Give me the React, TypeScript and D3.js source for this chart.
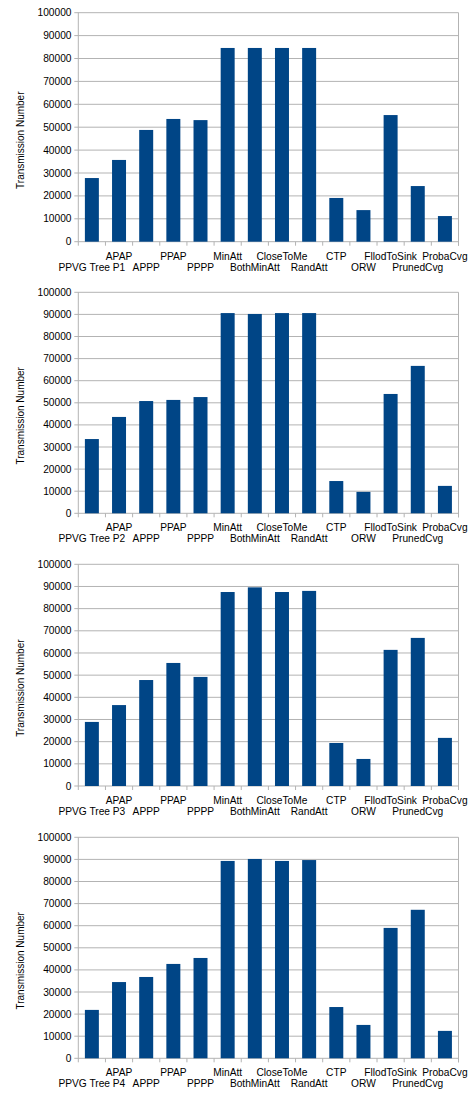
import React from "react";
import * as d3 from "d3";

const categories = [
  "PPVG Tree P1", "APAP", "APPP", "PPAP", "PPPP", "MinAtt", "BothMinAtt",
  "CloseToMe", "RandAtt", "CTP", "ORW", "FllodToSink", "PrunedCvg", "ProbaCvg",
];
const firstCategoryPerPanel = ["PPVG Tree P1", "PPVG Tree P2", "PPVG Tree P3", "PPVG Tree P4"];

const seriesP1 = [27800, 35700, 48800, 53600, 53100, 84600, 84600, 84600, 84600, 19100, 13800, 55300, 24300, 11200];
const seriesP2 = [33600, 43600, 50800, 51300, 52600, 90600, 90200, 90600, 90600, 14600, 9700, 54000, 66700, 12400];
const seriesP3 = [28900, 36500, 47800, 55500, 49200, 87500, 89600, 87500, 88000, 19400, 12200, 61400, 66800, 21700];
const seriesP4 = [21900, 34500, 36800, 42700, 45400, 89300, 90200, 89300, 89700, 23200, 15100, 59000, 67200, 12400];
const allSeries = [seriesP1, seriesP2, seriesP3, seriesP4];

const yTicks = [0, 10000, 20000, 30000, 40000, 50000, 60000, 70000, 80000, 90000, 100000];
const yTitle = "Transmission Number";

// layout (not data)
const panelLayout = [
  { top: 12.7, bottom: 241.7 },
  { top: 292.3, bottom: 513.3 },
  { top: 564.3, bottom: 786 },
  { top: 837.3, bottom: 1058.3 },
];
const plotLeft = 78.3;
const plotRight = 458.5;
const barColor = "#004586";
const gridColor = "#b3b3b3";
const font = "'Liberation Sans', Arial, sans-serif";

function Panel({ idx }: { idx: number }) {
  const { top, bottom } = panelLayout[idx];
  const values = allSeries[idx];
  const cats = categories.map((c, i) => (i === 0 ? firstCategoryPerPanel[idx] : c));
  const x = d3.scaleBand<string>().domain(cats).range([plotLeft, plotRight]).padding(0);
  const y = d3.scaleLinear().domain([0, 100000]).range([bottom, top]);
  const bw = x.bandwidth();
  const barW = bw * 0.515;
  const boundaries = d3.range(cats.length + 1).map((i) => plotLeft + i * bw);
  return (
    <g>
      {yTicks.map((t) => (
        <g key={t}>
          <line x1={plotLeft - 4} x2={plotRight} y1={y(t)} y2={y(t)} stroke={gridColor} strokeWidth={1} />
          <text x={71.5} y={y(t)} dy="0.35em" textAnchor="end" fontSize={10.2} fontFamily={font} fill="#000">
            {t}
          </text>
        </g>
      ))}
      <line x1={plotLeft} x2={plotLeft} y1={top} y2={bottom} stroke={gridColor} />
      <line x1={plotRight} x2={plotRight} y1={top} y2={bottom + 4} stroke={gridColor} />
      {boundaries.map((bx, i) => (
        <line key={i} x1={bx} x2={bx} y1={bottom} y2={bottom + 4} stroke={gridColor} />
      ))}
      {values.map((v, i) => (
        <rect
          key={i}
          x={(x(cats[i]) as number) + (bw - barW) / 2}
          y={y(v)}
          width={barW}
          height={y(0) - y(v)}
          fill={barColor}
        />
      ))}
      {cats.map((c, i) => (
        <text
          key={c}
          x={(x(c) as number) + bw / 2}
          y={bottom + (i % 2 === 1 ? 18 : 29)}
          textAnchor="middle"
          fontSize={10.2}
          fontFamily={font}
          fill="#000"
        >
          {c}
        </text>
      ))}
      <text
        transform={`translate(24,${(top + bottom) / 2 + 13}) rotate(-90)`}
        textAnchor="middle"
        fontSize={10}
        fontFamily={font}
        fill="#000"
      >
        {yTitle}
      </text>
    </g>
  );
}

export default function App() {
  return (
    <svg
      width={472}
      height={1094}
      style={{ position: "absolute", left: 0, top: 0, background: "#fff" }}
    >
      <rect width={472} height={1094} fill="#fff" />
      {panelLayout.map((_, i) => (
        <Panel key={i} idx={i} />
      ))}
    </svg>
  );
}
